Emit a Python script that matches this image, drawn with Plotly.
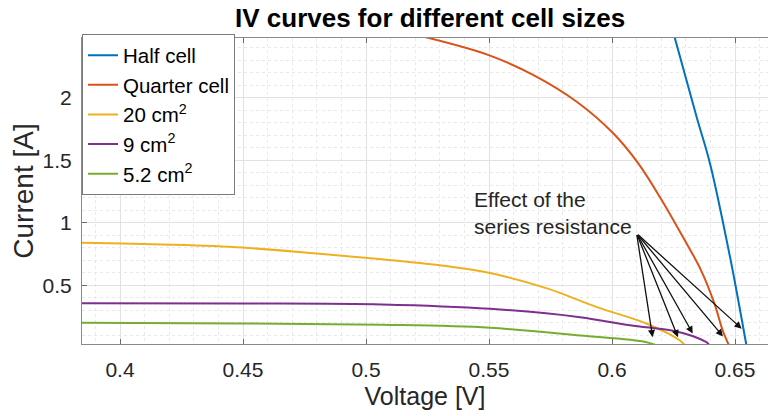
import plotly.graph_objects as go

# ---------------- data ----------------
half_v = [0.6254, 0.6344, 0.6398, 0.6480, 0.6545, 0.6548]
half_i = [2.49, 1.848, 1.478, 0.724, 0.034, 0.0]

quarter_v = [0.5235, 0.5496, 0.5679, 0.5858, 0.6004, 0.6106, 0.6195,
             0.6289, 0.6362, 0.6416, 0.6450, 0.6472, 0.6480]
quarter_i = [2.49, 2.345, 2.185, 1.968, 1.719, 1.478, 1.205,
             0.884, 0.620, 0.355, 0.138, 0.034, 0.0]

c20_v = [0.3840, 0.4200, 0.4496, 0.4800, 0.5065, 0.5300, 0.5504, 0.5736, 0.5939,
         0.6142, 0.6276, 0.6305]
c20_i = [0.840, 0.825, 0.802, 0.754, 0.708, 0.660, 0.598, 0.475, 0.325,
         0.192, 0.058, 0.0]

c9_v = [0.3840, 0.4500, 0.5065, 0.5504, 0.5870, 0.6073, 0.6248, 0.6330, 0.6390, 0.6396]
c9_i = [0.357, 0.355, 0.347, 0.312, 0.245, 0.180, 0.136, 0.092, 0.035, 0.0]

c52_v = [0.3840, 0.4500, 0.5065, 0.5504, 0.5870, 0.6140, 0.6205]
c52_i = [0.200, 0.195, 0.184, 0.160, 0.098, 0.044, 0.0]

series_names = ["Half cell", "Quarter cell", "20 cm<sup>2</sup>", "9 cm<sup>2</sup>", "5.2 cm<sup>2</sup>"]
series_colors = ["#0072BD", "#D95319", "#EDB120", "#7E2F8E", "#77AC30"]

# arrows: common tail, tips on each curve near Voc
arrow_tail_v, arrow_tail_i = 0.6100, 0.915
arrow_tip_v = [0.6165, 0.6268, 0.6328, 0.6451, 0.6527]
arrow_tip_i = [0.085, 0.085, 0.115, 0.091, 0.153]

x_ticks = [0.4, 0.45, 0.5, 0.55, 0.6, 0.65]
x_tick_text = ["0.4", "0.45", "0.5", "0.55", "0.6", "0.65"]
y_ticks = [0.5, 1, 1.5, 2]
y_tick_text = ["0.5", "1", "1.5", "2"]

FONT = "Liberation Sans, Arial, Helvetica, sans-serif"
TXT = "#262626"

fig = go.Figure()
for v, i, name, col in zip([half_v, quarter_v, c20_v, c9_v, c52_v],
                           [half_i, quarter_i, c20_i, c9_i, c52_i],
                           series_names, series_colors):
    fig.add_trace(go.Scatter(x=v, y=i, mode="lines", name=name, legendgroup=name,
                             line=dict(color=col, width=2, shape="spline", smoothing=1.0)))

for tv, ti in zip(arrow_tip_v, arrow_tip_i):
    fig.add_annotation(x=tv, y=ti, ax=arrow_tail_v, ay=arrow_tail_i,
                       xref="x", yref="y", axref="x", ayref="y",
                       showarrow=True, arrowhead=2, arrowsize=1.1, arrowwidth=1.3,
                       arrowcolor="#111111", text="", standoff=0, startstandoff=0)

fig.add_annotation(x=0.5432, y=1.078, xref="x", yref="y", xanchor="left", yanchor="middle",
                   text="Effect of the<br>series resistance", align="left", showarrow=False,
                   font=dict(family=FONT, size=21, color=TXT))

fig.update_layout(
    width=768, height=416,
    margin=dict(l=82, r=0, t=38, b=72),
    paper_bgcolor="white", plot_bgcolor="white",
    title=dict(text="<b>IV curves for different cell sizes</b>", x=0.56, xref="container",
               xanchor="center", y=0.957, yref="container", yanchor="middle",
               font=dict(family=FONT, size=26, color="#000000")),
    font=dict(family=FONT, size=20, color=TXT),
    showlegend=True,
    legend=dict(x=0, y=1.012, xanchor="left", yanchor="top", xref="paper", yref="paper",
                bgcolor="white", bordercolor="#7a7a7a", borderwidth=1,
                font=dict(family=FONT, size=20.5, color="#000000"),
                itemwidth=30, tracegroupgap=0),
)

fig.update_xaxes(range=[0.38455, 0.66341], tickvals=x_ticks, ticktext=x_tick_text,
                 showline=True, linecolor="#8a8a8a", linewidth=1, mirror="ticks",
                 ticks="inside", ticklen=5, tickcolor="#6a6a6a",
                 showgrid=True, gridcolor="#e2e2e2", gridwidth=1,
                 minor=dict(dtick=0.01, showgrid=True, gridcolor="#e9e9e9", griddash="dot"),
                 zeroline=False, ticklabelstandoff=7,
                 tickfont=dict(family=FONT, size=21, color=TXT),
                 title=dict(text="Voltage [V]", standoff=7, font=dict(family=FONT, size=25, color=TXT)))
fig.update_yaxes(range=[0.03, 2.48], tickvals=y_ticks, ticktext=y_tick_text,
                 showline=True, linecolor="#8a8a8a", linewidth=1, mirror=False,
                 ticks="inside", ticklen=5, tickcolor="#6a6a6a",
                 showgrid=True, gridcolor="#e2e2e2", gridwidth=1,
                 minor=dict(dtick=0.1, tick0=0, showgrid=True, gridcolor="#e9e9e9", griddash="dot"),
                 zeroline=False, ticklabelstandoff=5,
                 tickfont=dict(family=FONT, size=21, color=TXT),
                 title=dict(text="Current [A]", standoff=0, font=dict(family=FONT, size=28, color=TXT)))

fig.write_html("out.html")
